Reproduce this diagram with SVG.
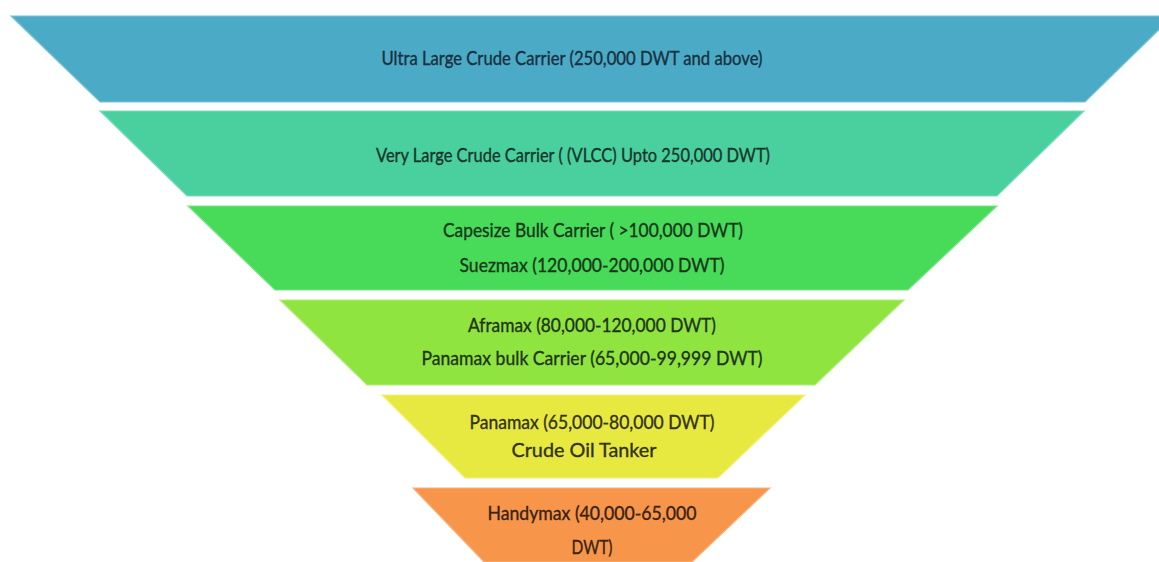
<svg xmlns="http://www.w3.org/2000/svg" width="1159" height="562" viewBox="0 0 1159 562">
<style>
.band{stroke-width:1.2;stroke-linejoin:miter}
.lbl{font-family:Lato,"Open Sans","Liberation Sans",sans-serif;font-size:19px;text-anchor:middle;stroke-width:0.35px}
</style>
<rect width="1159" height="562" fill="#ffffff"/>
<g id="band1">
<polygon class="band" points="11,16 1173,16 1085,102 100,102" fill="#4BAAC6" stroke="#7cc3d6"/>
<text class="lbl" x="572" y="65" textLength="381" lengthAdjust="spacingAndGlyphs" fill="#18303e" stroke="#18303e">Ultra Large Crude Carrier (250,000 DWT and above)</text>
</g>
<g id="band2">
<polygon class="band" points="100,111 1084,111 997,196 187,196" fill="#4ACF9F" stroke="#7fdcba"/>
<text class="lbl" x="573" y="162" textLength="394" lengthAdjust="spacingAndGlyphs" fill="#16362a" stroke="#16362a">Very Large Crude Carrier ( (VLCC) Upto 250,000 DWT)</text>
</g>
<g id="band3">
<polygon class="band" points="188,206 997,206 908,290 275,290" fill="#48DB59" stroke="#7fe48b"/>
<text class="lbl" x="593" y="237" textLength="300" lengthAdjust="spacingAndGlyphs" fill="#17361a" stroke="#17361a">Capesize Bulk Carrier ( &gt;100,000 DWT)</text>
<text class="lbl" x="592" y="272" textLength="265" lengthAdjust="spacingAndGlyphs" fill="#17361a" stroke="#17361a">Suezmax (120,000-200,000 DWT)</text>
</g>
<g id="band4">
<polygon class="band" points="280,300 904,300 815,385 367,385" fill="#8FE440" stroke="#b2ec7c"/>
<text class="lbl" x="592" y="332" textLength="248" lengthAdjust="spacingAndGlyphs" fill="#1f3418" stroke="#1f3418">Aframax (80,000-120,000 DWT)</text>
<text class="lbl" x="592" y="365" textLength="341" lengthAdjust="spacingAndGlyphs" fill="#1f3418" stroke="#1f3418">Panamax bulk Carrier (65,000-99,999 DWT)</text>
</g>
<g id="band5">
<polygon class="band" points="382,395 805,395 718,478 465,478" fill="#E8E940" stroke="#f0f07c"/>
<text class="lbl" x="592" y="429" textLength="245" lengthAdjust="spacingAndGlyphs" fill="#323218" stroke="#323218">Panamax (65,000-80,000 DWT)</text>
<text class="lbl" x="584" y="457" textLength="145" lengthAdjust="spacingAndGlyphs" fill="#323218" stroke="#323218">Crude Oil Tanker</text>
</g>
<g id="band6">
<polygon class="band" points="413,488 770,488 692,562 484,562" fill="#F7964A" stroke="#f9b47e"/>
<text class="lbl" x="592" y="520" textLength="209" lengthAdjust="spacingAndGlyphs" fill="#382212" stroke="#382212">Handymax (40,000-65,000</text>
<text class="lbl" x="592" y="554" textLength="41" lengthAdjust="spacingAndGlyphs" fill="#382212" stroke="#382212">DWT)</text>
</g>
<g id="connectors"></g>
</svg>
